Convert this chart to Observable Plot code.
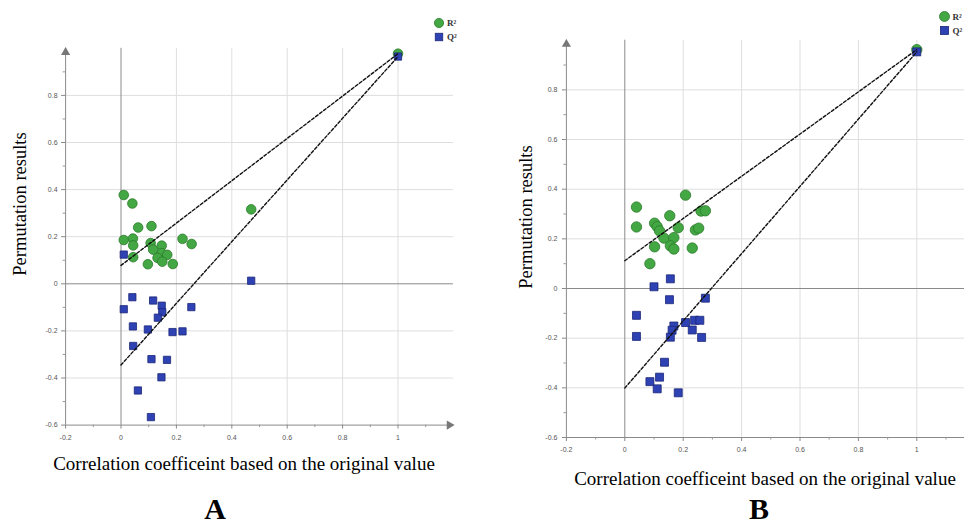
<!DOCTYPE html>
<html><head><meta charset="utf-8">
<script src="https://cdn.jsdelivr.net/npm/d3@7"></script>
<script src="https://cdn.jsdelivr.net/npm/@observablehq/plot@0.6"></script>
<style>
html,body{margin:0;padding:0;background:#fff}
body{width:964px;height:526px;overflow:hidden;position:relative}
.panel{position:absolute;top:0;height:526px}
.panel svg{max-width:none !important;display:block}
#overlay{position:absolute;left:0;top:0;pointer-events:none}
#overlay text.serif{font-family:"Liberation Serif","Times New Roman",serif}
</style></head>
<body>
<div id="pa" class="panel" style="left:0px;width:480px"></div>
<div id="pb" class="panel" style="left:480px;width:500px"></div>
<svg id="overlay" width="964" height="526"></svg>
<script>
// ---------- data ----------
const xTicks = [-0.2, 0, 0.2, 0.4, 0.6, 0.8, 1];
const yTicks = [-0.6, -0.4, -0.2, 0, 0.2, 0.4, 0.6, 0.8];
const xMinor = [-0.1, 0.1, 0.3, 0.5, 0.7, 0.9, 1.1];
const yMinor = [-0.5, -0.3, -0.1, 0.1, 0.3, 0.5, 0.7, 0.9];

// Panel A
const aR2x = [0.010, 0.041, 0.062, 0.110, 0.010, 0.043, 0.044, 0.044, 0.107, 0.116, 0.147, 0.147, 0.132, 0.167, 0.149, 0.097, 0.187, 0.222, 0.255, 0.470, 1.0];
const aR2y = [0.377, 0.341, 0.239, 0.245, 0.186, 0.192, 0.163, 0.113, 0.173, 0.145, 0.162, 0.130, 0.110, 0.123, 0.094, 0.083, 0.084, 0.191, 0.169, 0.316, 0.977];
const aQ2x = [0.010, 0.041, 0.010, 0.116, 0.147, 0.149, 0.133, 0.043, 0.097, 0.186, 0.222, 0.254, 0.044, 0.110, 0.166, 0.146, 0.061, 0.108, 0.470, 1.0];
const aQ2y = [0.124, -0.057, -0.108, -0.071, -0.093, -0.121, -0.144, -0.181, -0.194, -0.205, -0.202, -0.099, -0.264, -0.320, -0.323, -0.397, -0.453, -0.566, 0.013, 0.965];
const aR2Intercept = 0.078, aQ2Intercept = -0.345;

// Panel B
const bR2x = [0.040, 0.040, 0.208, 0.154, 0.102, 0.111, 0.119, 0.134, 0.168, 0.183, 0.156, 0.168, 0.102, 0.086, 0.231, 0.242, 0.253, 0.261, 0.276, 1.0];
const bR2y = [0.328, 0.248, 0.376, 0.293, 0.263, 0.249, 0.232, 0.203, 0.205, 0.245, 0.172, 0.159, 0.168, 0.100, 0.163, 0.236, 0.243, 0.312, 0.313, 0.962];
const bQ2x = [0.156, 0.100, 0.153, 0.276, 0.040, 0.040, 0.168, 0.162, 0.208, 0.239, 0.257, 0.231, 0.263, 0.156, 0.136, 0.119, 0.086, 0.111, 0.183, 1.0];
const bQ2y = [0.039, 0.007, -0.045, -0.039, -0.108, -0.193, -0.151, -0.168, -0.137, -0.128, -0.128, -0.167, -0.197, -0.196, -0.297, -0.357, -0.375, -0.404, -0.420, 0.953];
const bR2Intercept = 0.112, bQ2Intercept = -0.401;

const xLabel = "Correlation coefficeint based on the original value";
const yLabel = "Permutation results";

// ---------- drawing ----------
const GREEN = "#43a843", GREEN_S = "#2b7a2b";
const BLUE = "#2e42b4", BLUE_S = "#1c2777";
const fmt = d => String(+d.toFixed(1));

function panel(cfg) {
  const r2 = cfg.r2x.map((x, i) => ({x, y: cfg.r2y[i]}));
  const q2 = cfg.q2x.map((x, i) => ({x, y: cfg.q2y[i]}));
  const r2o = r2[r2.length - 1], q2o = q2[q2.length - 1];
  const lines = [
    {k: "R2", x: 0, y: cfg.r2i}, {k: "R2", x: r2o.x, y: r2o.y},
    {k: "Q2", x: 0, y: cfg.q2i}, {k: "Q2", x: q2o.x, y: q2o.y}
  ];
  return Plot.plot({
    width: cfg.width, height: 526,
    marginLeft: cfg.ml, marginRight: cfg.mr, marginTop: cfg.mt, marginBottom: cfg.mb,
    x: {domain: [-0.2, 1.2]},
    y: {domain: [-0.6, 1.0]},
    style: {fontFamily: "Liberation Sans, Arial, sans-serif", fontSize: "7px", color: "#555", background: "transparent", maxWidth: "none"},
    marks: [
      Plot.gridX(xTicks.filter(d => d !== -0.2 && d !== 0), {stroke: "#dedede", strokeOpacity: 1}),
      Plot.gridY(yTicks.filter(d => d !== -0.6 && d !== 0), {stroke: "#dedede", strokeOpacity: 1}),
      Plot.ruleX([0], {stroke: "#8a8a8a", strokeWidth: 1}),
      Plot.ruleY([0], {stroke: "#8a8a8a", strokeWidth: 1}),
      Plot.ruleX([-0.2], {stroke: "#8a8a8a", strokeWidth: 1}),
      Plot.ruleY([-0.6], {stroke: "#8a8a8a", strokeWidth: 1}),
      Plot.axisY(yMinor, {tickSize: 2.5, tickFormat: () => "", label: null, stroke: "#999"}),
      Plot.axisX(xMinor, {tickSize: 2.5, tickFormat: () => "", label: null, stroke: "#999"}),
      Plot.axisY(yTicks, {tickSize: 4, tickPadding: cfg.tpy, tickFormat: fmt, label: null, stroke: "#888"}),
      Plot.axisX(xTicks, {tickSize: 4, tickPadding: cfg.tpx, tickFormat: fmt, label: null, stroke: "#888"}),
      Plot.dot([0], {frameAnchor: "top-left", symbol: "triangle", r: 3.4, dy: 4, fill: "#777", stroke: "none"}),
      Plot.dot([0], {frameAnchor: "bottom-right", symbol: "triangle", r: 3.4, dx: -4, rotate: 90, fill: "#777", stroke: "none"}),
      Plot.dot(r2, {x: "x", y: "y", r: cfg.rc, fill: GREEN, stroke: GREEN_S, strokeWidth: 0.8}),
      Plot.dot(q2, {x: "x", y: "y", symbol: "square", r: cfg.rs, fill: BLUE, stroke: BLUE_S, strokeWidth: 0.8}),
      Plot.line(lines, {x: "x", y: "y", z: "k", stroke: "#111", strokeWidth: 1.4, strokeDasharray: "3,2"})
    ]
  });
}

document.getElementById("pa").append(panel({
  width: 480, ml: 65.1, mr: 27.1, mt: 47.8, mb: 101.4, tpy: 4, tpx: 6, rc: 4.8, rs: 4.1,
  r2x: aR2x, r2y: aR2y, q2x: aQ2x, q2y: aQ2y, r2i: aR2Intercept, q2i: aQ2Intercept
}));
document.getElementById("pb").append(panel({
  width: 500, ml: 85.9, mr: 5.3, mt: 39.7, mb: 89, tpy: 5, tpx: 6, rc: 5.2, rs: 4.5,
  r2x: bR2x, r2y: bR2y, q2x: bQ2x, q2y: bQ2y, r2i: bR2Intercept, q2i: bQ2Intercept
}));

// ---------- texts and legends ----------
const ov = d3.select("#overlay");
function ylab(cx, cy) {
  ov.append("text").attr("class", "serif").attr("transform", `translate(${cx},${cy}) rotate(-90)`)
    .attr("text-anchor", "middle").attr("font-size", 18.5).text(yLabel);
}
function xlab(cx, by) {
  ov.append("text").attr("class", "serif").attr("x", cx).attr("y", by).attr("text-anchor", "middle")
    .attr("font-size", 19).text(xLabel);
}
ylab(26, 204); xlab(244, 470);
ylab(532, 217); xlab(765, 485);
ov.append("text").attr("class", "serif").attr("x", 215).attr("y", 519).attr("text-anchor", "middle").attr("font-weight", "bold").attr("font-size", 30).text("A");
ov.append("text").attr("class", "serif").attr("x", 759).attr("y", 519).attr("text-anchor", "middle").attr("font-weight", "bold").attr("font-size", 30).text("B");

function legend(x, y, r, s) {
  ov.append("circle").attr("cx", x).attr("cy", y).attr("r", r).attr("fill", GREEN).attr("stroke", GREEN_S).attr("stroke-width", 0.8);
  ov.append("rect").attr("x", x - s / 2).attr("y", y + 14 - s / 2).attr("width", s).attr("height", s).attr("fill", BLUE).attr("stroke", BLUE_S).attr("stroke-width", 0.8);
  ov.append("text").attr("class", "serif").attr("x", x + 8).attr("y", y + 3).attr("font-weight", "bold").attr("font-size", 9).attr("fill", "#333").text("R²");
  ov.append("text").attr("class", "serif").attr("x", x + 8).attr("y", y + 17).attr("font-weight", "bold").attr("font-size", 9).attr("fill", "#333").text("Q²");
}
legend(439, 23, 4.6, 7.5);
legend(944.5, 16.5, 5, 8);
</script>
</body></html>
